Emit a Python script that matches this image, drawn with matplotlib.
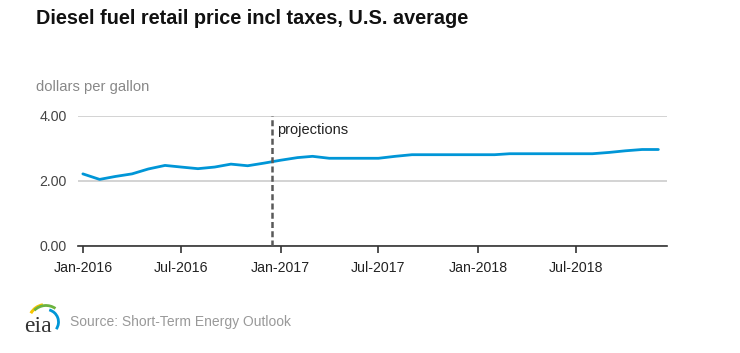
import numpy as np
import pandas as pd
import matplotlib
matplotlib.use("Agg")
import matplotlib.pyplot as plt
import matplotlib.dates as mdates
from matplotlib.patches import Arc

# monthly average diesel price (dollars per gallon), Jan-2016 .. Dec-2018
months = pd.date_range("2016-01-01", "2018-12-01", freq="MS")
price = [2.21, 2.04, 2.13, 2.21, 2.36, 2.47, 2.42, 2.37, 2.42, 2.51, 2.46, 2.54,
         2.63, 2.71, 2.75, 2.69, 2.69, 2.69, 2.69, 2.75, 2.80, 2.80, 2.80, 2.80,
         2.80, 2.80, 2.83, 2.83, 2.83, 2.83, 2.83, 2.83, 2.87, 2.92, 2.96, 2.96]
tick_dates = pd.to_datetime(["2016-01-01", "2016-07-01", "2017-01-01",
                             "2017-07-01", "2018-01-01", "2018-07-01"])
y_ticks = [0, 2, 4]
proj_start = pd.Timestamp("2016-12-16")

plt.rcParams['font.family'] = ['Liberation Sans', 'DejaVu Sans']

fig = plt.figure(figsize=(7.4, 3.53), dpi=100)
ax = fig.add_axes([78 / 740, 1 - 245.7 / 353, (667 - 78) / 740, 130 / 353])

ax.plot(months, price, color="#0096d7", lw=2.0, solid_capstyle="round", zorder=3)
ax.axvline(proj_start, color="#595959", lw=1.8, ls=(0, (2.4, 1.3)), zorder=4)
ax.text(proj_start + pd.Timedelta(days=9), 3.55, "projections", fontsize=10.5,
        color="#222222", va="center")

ax.set_xlim(pd.Timestamp("2015-12-23"), pd.Timestamp("2018-12-17"))
ax.set_ylim(0, 4)
ax.set_yticks(y_ticks)
ax.set_yticklabels([f"{v:.2f}" for v in y_ticks])
ax.set_xticks(tick_dates)
ax.xaxis.set_major_formatter(mdates.DateFormatter("%b-%Y"))

ax.grid(axis="y", color="#cccccc", lw=1.2)
ax.set_axisbelow(True)
for s in ["left", "right", "top"]:
    ax.spines[s].set_visible(False)
ax.spines["bottom"].set_color("#333333")
ax.spines["bottom"].set_linewidth(1.2)
ax.tick_params(axis="y", length=0, pad=8, labelsize=10.2, labelcolor="#444444")
ax.tick_params(axis="x", length=5, width=1.2, color="#333333", pad=6,
               labelsize=10.2, labelcolor="#222222")

fig.text(36 / 740, 1 - 18.5 / 353, "Diesel fuel retail price incl taxes, U.S. average",
         fontsize=14.3, fontweight="bold", color="#111111", va="center")
fig.text(36 / 740, 1 - 87 / 353, "dollars per gallon", fontsize=10.6,
         color="#888888", va="center")
fig.text(70 / 740, 1 - 322 / 353, "Source: Short-Term Energy Outlook", fontsize=10,
         color="#999999", va="center")

# rough eia logo, drawn in pixel units
logo = fig.add_axes([20 / 740, 1 - 338 / 353, 45 / 740, 38 / 353])
logo.set_xlim(20, 65)
logo.set_ylim(0, 38)
logo.axis("off")
logo.text(38, 12, "eia", fontsize=17, family="Liberation Serif", color="#333333",
          ha="center", va="center")
logo.add_patch(Arc((46, 16), 35, 35, theta1=100, theta2=150, color="#f5c400", lw=2.2))
logo.add_patch(Arc((46, 16), 33, 33, theta1=55, theta2=135, color="#6cb33f", lw=2.0))
logo.add_patch(Arc((46, 16), 25, 25, theta1=-35, theta2=75, color="#0096d7", lw=2.0))

fig.savefig("out.png", dpi=100)
